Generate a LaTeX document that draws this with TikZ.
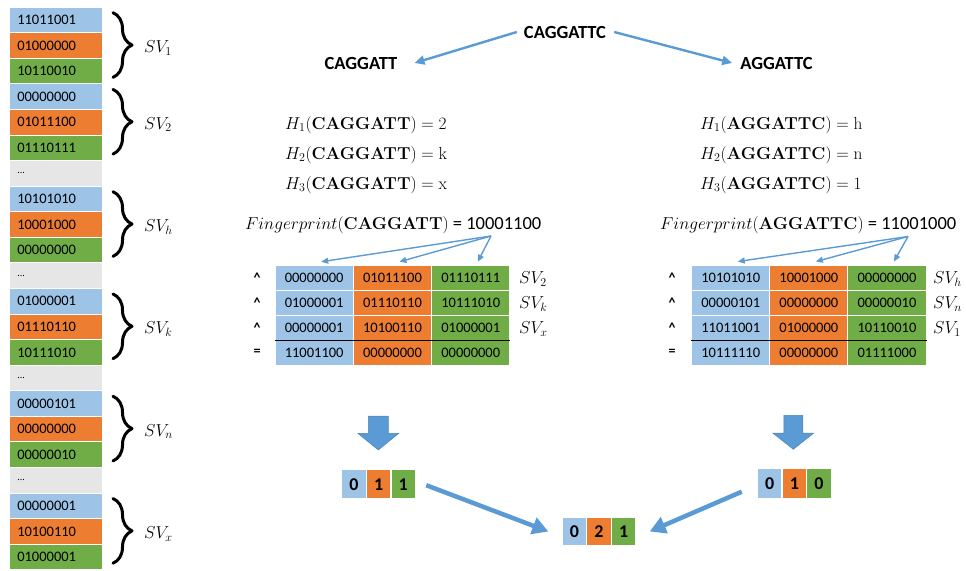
\documentclass[tikz,border=0pt]{standalone}
\usepackage[no-math]{fontspec}
\setmainfont{Carlito}
\usetikzlibrary{arrows.meta,calc,decorations.pathreplacing}
\definecolor{cB}{HTML}{9DC3E6}
\definecolor{cO}{HTML}{ED7D31}
\definecolor{cG}{HTML}{70AD47}
\definecolor{cY}{HTML}{E7E6E6}
\definecolor{cA}{HTML}{5B9BD5}
\newcommand\setfs[1]{\fontsize{#1}{#1}\selectfont}
\tikzset{
  cell/.style={draw=white, line width=1pt, anchor=north west, minimum width=92.5,
    minimum height=25.57, inner ysep=0, inner xsep=7.7, text width=77, align=left,
    font=\setfs{14.5}},
  brc/.style={decorate, decoration={brace, amplitude=19pt}, line width=3pt,
    line cap=round, line join=round},
  svl/.style={anchor=west, inner sep=0, font=\setfs{17.5}},
  tc/.style={draw=white, line width=1pt, minimum width=78.3, minimum height=25,
    inner sep=0, font=\setfs{14.5}},
  hdr/.style={inner sep=2pt, font=\setfs{14.5}},
  op/.style={inner sep=0, font=\bfseries\setfs{14}},
  seq/.style={inner sep=0, font=\bfseries\setfs{18.5}},
  frm/.style={anchor=west, inner sep=0, font=\setfs{16.8}},
  sb/.style={minimum width=24.6, minimum height=30, inner sep=0, draw=white,
    line width=1.5pt, font=\bfseries\setfs{18}},
  arrT/.style={draw=cA, line width=2.4pt, -{Triangle[length=10pt,width=9pt]}},
  arrF/.style={draw=cA, line width=1.4pt, -{Triangle[length=7pt,width=6pt]}},
  arrB/.style={draw=cA, line width=4.5pt, -{Triangle[length=16pt,width=17pt]}},
  blk/.style={fill=cA, draw=cA!85!black, line width=0.5pt},
}
\begin{document}
\begin{tikzpicture}[x=1pt,y=-1pt]
\useasboundingbox (0,0) rectangle (966,570);

% ---- storage column of sketch vectors ----
\foreach \c/\t [count=\i from 0] in {
  B/11011001, O/01000000, G/10110010,
  B/00000000, O/01011100, G/01110111,
  Y/{\setfs{10}...},
  B/10101010, O/10001000, G/00000000,
  Y/{\setfs{10}...},
  B/01000001, O/01110110, G/10111010,
  Y/{\setfs{10}...},
  B/00000101, O/00000000, G/00000010,
  Y/{\setfs{10}...},
  B/00000001, O/10100110, G/01000001}
  \node[cell, fill=c\c] (L\i) at (9, {6.7+25.57*\i}) {\t};

% braces and their labels
\foreach \s/\l in {0/1, 3/2, 7/h, 11/k, 15/n, 19/x} {
  \draw[brc] (113, {6.7+25.57*\s+6}) -- (113, {6.7+25.57*\s+70.7});
  \node[svl] (SV\l) at (144, {6.7+25.57*\s+38.35+3}) {$SV_{\l}$};
}

% ---- splitting the sequence ----
\node[seq] (top) at (565,32) {CAGGATTC};
\node[seq] (cl) at (361,63) {CAGGATT};
\node[seq] (cr) at (776.5,63) {AGGATTC};
\draw[arrT] ($(top.west)+(-7,0)$) -- ($(cl.east)+(17,0)$);
\draw[arrT] ($(top.east)+(8,0)$) -- ($(cr.west)+(-8,0)$);

% ---- hash values ----
\node[frm] (h1L) at (285,125) {$H_1(\mathbf{CAGGATT}) = \mathrm{2}$};
\node[frm] (h2L) at (285,155) {$H_2(\mathbf{CAGGATT}) = \mathrm{k}$};
\node[frm] (h3L) at (285,185) {$H_3(\mathbf{CAGGATT}) = \mathrm{x}$};
\node[frm] (h1R) at (700,125) {$H_1(\mathbf{AGGATTC}) = \mathrm{h}$};
\node[frm] (h2R) at (700,155) {$H_2(\mathbf{AGGATTC}) = \mathrm{n}$};
\node[frm] (h3R) at (700,185) {$H_3(\mathbf{AGGATTC}) = 1$};

\node[frm] (fpL) at (245,225) {$Fingerprint(\mathbf{CAGGATT})$\setfs{18.5} = 10001100};
\node[frm] (fpR) at (660,225) {$Fingerprint(\mathbf{AGGATTC})$\setfs{18.5} = 11001000};
\coordinate (fsL) at (491,236);
\coordinate (fsR) at (908,236.5);

% ---- left table ----
\foreach \x [count=\k] in {314.15,392.45,470.75}
  \node[hdr] (hL\k) at (\x,276.7) {10001100};
\foreach \k in {1,2,3}
  \draw[arrF] (fsL) -- ($(hL\k.north)+(7,-8)$);
\foreach \r/\a/\b/\c in {1/00000000/01011100/01110111, 2/01000001/01110110/10111010,
                          3/00000001/10100110/01000001, 4/11001100/00000000/00000000} {
  \node[tc, fill=cB] (La\r) at (314.15, {252.5+25*\r}) {\a};
  \node[tc, fill=cO] (Lb\r) at (392.45, {252.5+25*\r}) {\b};
  \node[tc, fill=cG] (Lc\r) at (470.75, {252.5+25*\r}) {\c};
}
\foreach \r/\o in {1/\textasciicircum, 2/\textasciicircum, 3/\textasciicircum, 4/=}
  \node[op] (oL\r) at (257, {252.5+25*\r}) {\o};
\foreach \r/\l in {1/2, 2/k, 3/x}
  \node[svl] (tL\r) at (519, {254+25*\r}) {$SV_{\l}$};
\draw[line width=1.2pt] (La3.south west) -- (Lc3.south east);

% ---- right table ----
\foreach \x [count=\k] in {730.75,808.85,886.95}
  \node[hdr] (hR\k) at (\x,276.5) {11001000};
\foreach \k in {1,2,3}
  \draw[arrF] (fsR) -- ($(hR\k.north)+(7,-8)$);
\foreach \r/\a/\b/\c in {1/10101010/10001000/00000000, 2/00000101/00000000/00000010,
                          3/11011001/01000000/10110010, 4/10111110/00000000/01111000} {
  \node[tc, fill=cB] (Ra\r) at (730.75, {252.5+25*\r}) {\a};
  \node[tc, fill=cO] (Rb\r) at (808.85, {252.5+25*\r}) {\b};
  \node[tc, fill=cG] (Rc\r) at (886.95, {252.5+25*\r}) {\c};
}
\foreach \r/\o in {1/\textasciicircum, 2/\textasciicircum, 3/\textasciicircum, 4/=}
  \node[op] (oR\r) at (672, {252.5+25*\r}) {\o};
\foreach \r/\l in {1/h, 2/n, 3/1}
  \node[svl] (tR\r) at (933, {254+25*\r}) {$SV_{\l}$};
\draw[line width=1.2pt] (Ra3.south west) -- (Rc3.south east);

% ---- block arrows ----
\path[blk] (368.3,416) -- (388.3,416) -- (388.3,433.3) -- (398.8,433.3) -- (378.3,450)
  -- (357.8,433.3) -- (368.3,433.3) -- cycle;
\path[blk] (783.8,415.3) -- (802.8,415.3) -- (802.8,433) -- (813.9,433) -- (793.3,449.3)
  -- (772.7,433) -- (783.8,433) -- cycle;

% ---- counters ----
\node[sb, fill=cB] (l1) at (354,484.2) {0};
\node[sb, fill=cO] (l2) at (378.6,484.2) {1};
\node[sb, fill=cG] (l3) at (403.2,484.2) {1};
\node[sb, fill=cB] (r1) at (769.8,483.7) {0};
\node[sb, fill=cO] (r2) at (794.4,483.7) {1};
\node[sb, fill=cG] (r3) at (819,483.7) {0};
\node[sb, fill=cB, minimum height=29] (b1) at (574.4,531.5) {0};
\node[sb, fill=cO, minimum height=29] (b2) at (599,531.5) {2};
\node[sb, fill=cG, minimum height=29] (b3) at (623.6,531.5) {1};

\draw[arrB] ($(l3.east)+(10,1)$) -- ($(b1.west)+(-13,0)$);
\draw[arrB] ($(r1.west)+(-15,8)$) -- ($(b3.east)+(13,0)$);
\end{tikzpicture}
\end{document}
